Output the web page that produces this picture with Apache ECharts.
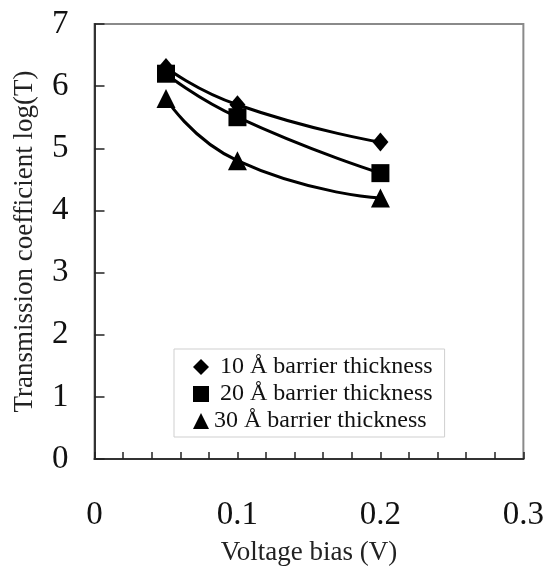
<!DOCTYPE html>
<html>
<head>
<meta charset="utf-8">
<script src="https://cdn.jsdelivr.net/npm/echarts@6/dist/echarts.min.js"></script>
<style>
  html, body { margin: 0; padding: 0; background: #fff; }
  #chart { width: 547px; height: 571px; }
</style>
</head>
<body>
<div id="chart"></div>
<script>
// voltage bias (V) and log(T) for each barrier thickness
const voltage = [0.05, 0.1, 0.2];
const names = ["10 Å barrier thickness", "20 Å barrier thickness", "30 Å barrier thickness"];
const t10 = [6.3, 5.7, 5.1];
const t20 = [6.2, 5.5, 4.6];
const t30 = [5.8, 4.8, 4.2];
const xTicks = [0, 0.1, 0.2, 0.3];
const yTicks = [0, 1, 2, 3, 4, 5, 6, 7];

const serif = "Liberation Serif";
const chart = echarts.init(document.getElementById("chart"));

function pairs(ys) {
  return voltage.map((x, i) => [x, ys[i]]);
}

function makeSeries(name, ys, symbol, size) {
  return {
    name: name,
    type: "line",
    smooth: 0.55,
    data: pairs(ys),
    symbol: symbol,
    symbolSize: size,
    color: "#000",
    itemStyle: { color: "#000" },
    lineStyle: { color: "#000", width: 3 }
  };
}

chart.setOption({
  backgroundColor: "#fff",
  animation: false,
  grid: {
    left: 94.5,
    right: 22,
    top: 24,
    bottom: 108,
    show: true,
    borderColor: "#8a8a8a",
    borderWidth: 2
  },
  legend: {
    orient: "vertical",
    left: 174,
    top: 349,
    padding: [6, 12, 4, 19],
    itemGap: 3,
    itemWidth: 16,
    itemHeight: 16,
    selectedMode: false,
    borderColor: "#cfcfcf",
    borderWidth: 1,
    backgroundColor: "#fff",
    data: [
      { name: names[0], icon: "diamond" },
      { name: names[1], icon: "rect" },
      { name: names[2], icon: "triangle" }
    ],
    formatter: function (n) {
      return n === names[2] ? n : " " + n;
    },
    textStyle: { fontFamily: serif, fontSize: 24, color: "#111" }
  },
  xAxis: {
    type: "value",
    min: 0,
    max: 0.3,
    interval: 0.02,
    name: "Voltage bias (V)",
    nameLocation: "middle",
    nameGap: 80,
    nameTextStyle: { fontFamily: serif, fontSize: 27, color: "#222" },
    axisLine: { lineStyle: { color: "#333", width: 2 } },
    axisTick: { inside: true, length: 7, lineStyle: { color: "#222", width: 1.5 } },
    splitLine: { show: false },
    axisLabel: {
      margin: 40,
      fontFamily: serif,
      fontSize: 33,
      color: "#111",
      formatter: function (v) {
        const hit = xTicks.find(t => Math.abs(t - v) < 1e-6);
        return hit === undefined ? "" : String(hit);
      }
    }
  },
  yAxis: {
    type: "value",
    min: yTicks[0],
    max: yTicks[yTicks.length - 1],
    interval: 1,
    name: "Transmission coefficient log(T)",
    nameLocation: "middle",
    nameGap: 56,
    nameTextStyle: { fontFamily: serif, fontSize: 27, color: "#222" },
    axisLine: { show: true, lineStyle: { color: "#333", width: 2 } },
    axisTick: { show: true, inside: true, length: 10, lineStyle: { color: "#222", width: 1.5 } },
    splitLine: { show: false },
    axisLabel: { margin: 26, fontFamily: serif, fontSize: 33, color: "#111" }
  },
  series: [
    makeSeries(names[0], t10, "diamond", [16, 19]),
    makeSeries(names[1], t20, "rect", 18),
    makeSeries(names[2], t30, "triangle", 19)
  ]
});
</script>
</body>
</html>
